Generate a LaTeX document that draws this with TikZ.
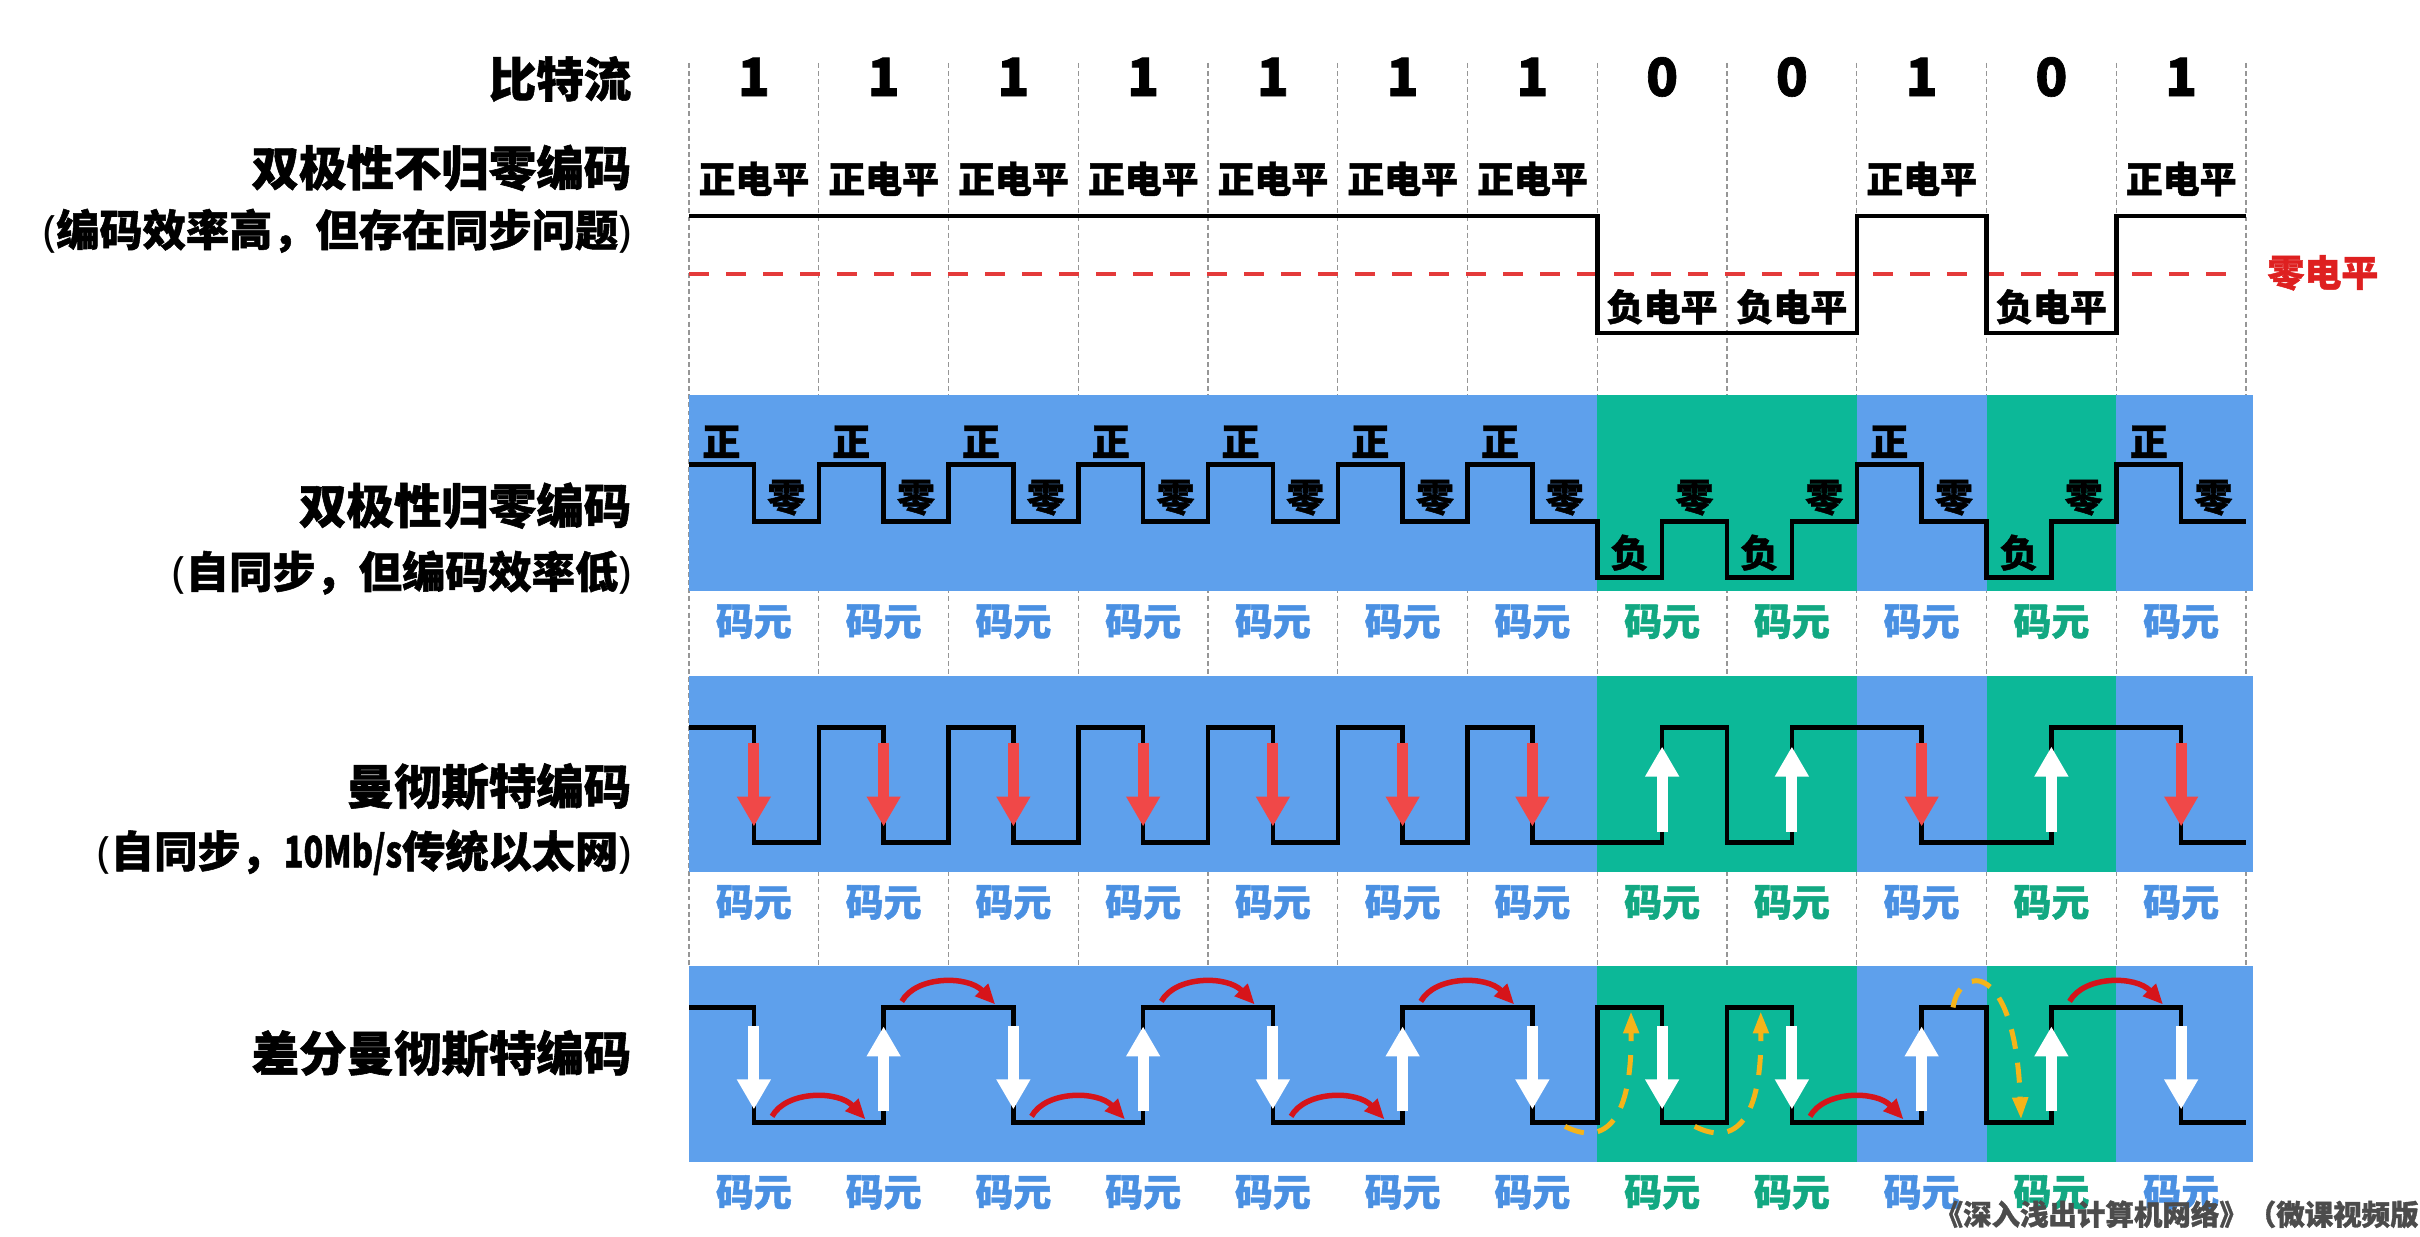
\documentclass[tikz,border=0pt]{standalone}
\usepackage{fontspec}
\usepackage{graphicx}
\setmainfont{Noto Sans CJK SC}[BoldFeatures={FakeBold=1.2}]
\newfontfamily\latfont{Noto Sans}[BoldFeatures={FakeBold=1.2}]
\newcommand\lp{{\latfont(}}
\newcommand\rp{{\latfont)}}
\usetikzlibrary{arrows.meta}
\definecolor{bandblue}{RGB}{94,160,236}
\definecolor{bandgreen}{RGB}{12,184,152}
\definecolor{txtblue}{RGB}{74,144,226}
\definecolor{txtgreen}{RGB}{18,168,130}
\definecolor{arrred}{RGB}{240,72,72}
\definecolor{arcred}{RGB}{214,20,26}
\definecolor{zerored}{RGB}{228,58,58}
\definecolor{labred}{RGB}{222,32,32}
\definecolor{dyellow}{RGB}{245,180,25}
\definecolor{gridgray}{RGB}{150,150,150}
\begin{document}
\begin{tikzpicture}[x=1.2975cm, y=-0.01cm,
  title/.style={anchor=east, inner sep=0pt, font=\bfseries\fontsize{13.5pt}{15pt}\selectfont},
  subtitle/.style={anchor=east, inner sep=0pt, font=\bfseries\fontsize{12.3pt}{14pt}\selectfont},
  bitlabel/.style={inner sep=0pt, font=\bfseries\fontsize{15pt}{17pt}\selectfont},
  lvl/.style={inner sep=0pt, font=\bfseries\fontsize{10.5pt}{12pt}\selectfont},
  symb/.style={inner sep=0pt, font=\bfseries\fontsize{10.8pt}{12pt}\selectfont},
  sig/.style={line width=0.045cm, line join=miter},
  gridline/.style={gridgray, line width=0.35pt, dash pattern=on 1.4pt off 0.9pt},
  fatarrow/.style={line width=0.11cm, -{Triangle[width=0.32cm,length=0.30cm]}},
  redarc/.style={arcred, line width=0.055cm, -{Triangle[width=0.17cm,length=0.2cm]}},
  yarrow/.style={dyellow, line width=0.05cm, dash pattern=on 0.2cm off 0.14cm, -{Triangle[width=0.15cm,length=0.22cm]}}
]
\useasboundingbox (-5.3102,0) rectangle (13.3410,1237);

% grid lines
\foreach \i in {0,...,12} \draw[gridline] (\i,63) -- (\i,967);

% bands
\fill[bandblue] (0,395) rectangle (12.05,591);
\fill[bandgreen] (7,395) rectangle (9,591);
\fill[bandgreen] (10,395) rectangle (11,591);
\fill[bandblue] (0,676) rectangle (12.05,872);
\fill[bandgreen] (7,676) rectangle (9,872);
\fill[bandgreen] (10,676) rectangle (11,872);
\fill[bandblue] (0,967) rectangle (12.05,1163);
\fill[bandgreen] (7,967) rectangle (9,1163);
\fill[bandgreen] (10,967) rectangle (11,1163);

% titles
\node[title] (tbits) at (-0.44,79) {比特流};
\node[title] (t1) at (-0.44,168) {双极性不归零编码};
\node[subtitle] (s1) at (-0.44,231) {\lp 编码效率高，但存在同步问题\rp};
\node[title] (t2) at (-0.44,506) {双极性归零编码};
\node[subtitle] (s2) at (-0.44,573) {\lp 自同步，但编码效率低\rp};
\node[title] (t3) at (-0.44,787) {曼彻斯特编码};
\node[subtitle] (s3) at (-0.44,853) {\lp 自同步，\scalebox{0.75}[1]{10Mb/s}传统以太网\rp};
\node[title] (t4) at (-0.44,1054) {差分曼彻斯特编码};

% bits
\foreach \i/\b in {0/1,1/1,2/1,3/1,4/1,5/1,6/1,7/0,8/0,9/1,10/0,11/1}
  \node[bitlabel] (b\i) at (\i+0.5,77) {\b};

% row 1: bipolar NRZ
\draw[zerored, line width=0.04cm, dash pattern=on 0.2cm off 0.17cm] (0,274) -- (11.93,274);
\node[lvl, labred] (zl) at (12.593,273) {零电平};
\draw[sig] (0,216) -- (7,216) -- (7,333) -- (9,333) -- (9,216) -- (10,216) -- (10,333) -- (11,333) -- (11,216) -- (12,216);
\foreach \i in {0,1,2,3,4,5,6,9,11} \node[lvl] (p\i) at (\i+0.5,179) {正电平};
\foreach \i in {7,8,10} \node[lvl] (n\i) at (\i+0.5,307) {负电平};

% row 2: bipolar RZ
\draw[sig] (0,465)
  \foreach \i in {0,...,6}{ -- (\i,465) -- (\i+0.5,465) -- (\i+0.5,522) -- (\i+1,522) }
  -- (7,578) -- (7.5,578) -- (7.5,522) -- (8,522) -- (8,578) -- (8.5,578) -- (8.5,522)
  -- (9,522) -- (9,465) -- (9.5,465) -- (9.5,522) -- (10,522) -- (10,578) -- (10.5,578)
  -- (10.5,522) -- (11,522) -- (11,465) -- (11.5,465) -- (11.5,522) -- (12,522);
\foreach \i in {0,1,2,3,4,5,6,9,11} \node[symb] (zp\i) at (\i+0.25,442) {正};
\foreach \i in {0,...,11} \node[symb] (zz\i) at (\i+0.75,498) {零};
\foreach \i in {7,8,10} \node[symb] (zn\i) at (\i+0.25,553) {负};

% row 3: Manchester
\draw[sig] (0,728)
  \foreach \i in {0,...,5}{ -- (\i+0.5,728) -- (\i+0.5,843) -- (\i+1,843) -- (\i+1,728) }
  -- (6.5,728) -- (6.5,843) -- (7.5,843) -- (7.5,728) -- (8,728) -- (8,843) -- (8.5,843)
  -- (8.5,728) -- (9.5,728) -- (9.5,843) -- (10.5,843) -- (10.5,728) -- (11.5,728)
  -- (11.5,843) -- (12,843);
\foreach \i in {0,1,2,3,4,5,6,9,11} \draw[fatarrow, arrred] (\i+0.5,743) -- (\i+0.5,827);
\foreach \i in {7,8,10} \draw[fatarrow, white] (\i+0.5,832) -- (\i+0.5,747);

% row 4: differential Manchester
\draw[sig] (0,1008) -- (0.5,1008) -- (0.5,1123) -- (1.5,1123) -- (1.5,1008) -- (2.5,1008)
  -- (2.5,1123) -- (3.5,1123) -- (3.5,1008) -- (4.5,1008) -- (4.5,1123) -- (5.5,1123)
  -- (5.5,1008) -- (6.5,1008) -- (6.5,1123) -- (7,1123) -- (7,1008) -- (7.5,1008)
  -- (7.5,1123) -- (8,1123) -- (8,1008) -- (8.5,1008) -- (8.5,1123) -- (9.5,1123)
  -- (9.5,1008) -- (10,1008) -- (10,1123) -- (10.5,1123) -- (10.5,1008) -- (11.5,1008)
  -- (11.5,1123) -- (12,1123);
\foreach \i in {0,2,4,6,7,8,11} \draw[fatarrow, white] (\i+0.5,1027) -- (\i+0.5,1110);
\foreach \i in {1,3,5,9,10} \draw[fatarrow, white] (\i+0.5,1112) -- (\i+0.5,1027);
\foreach \b/\l in {1/1123,2/1008,3/1123,4/1008,5/1123,6/1008,9/1123,11/1008}
  \draw[redarc] (\b-0.36,\l-6) .. controls (\b-0.25,\l-32) and (\b+0.15,\l-32) .. (\b+0.36,\l-3);
\draw[yarrow] (6.751,1127) .. controls (7.021,1145) and (7.268,1130) .. (7.260,1012);
\draw[yarrow] (7.751,1127) .. controls (8.021,1145) and (8.268,1130) .. (8.260,1012);
\draw[yarrow] (9.742,1008) .. controls (9.796,965) and (10.220,960) .. (10.266,1120);

% symbol labels
\foreach \i in {0,1,2,3,4,5,6,9,11} {
  \node[symb, txtblue] (ma\i) at (\i+0.5,622) {码元};
  \node[symb, txtblue] (mb\i) at (\i+0.5,903) {码元};
  \node[symb, txtblue] (mc\i) at (\i+0.5,1193) {码元};
}
\foreach \i in {7,8,10} {
  \node[symb, txtgreen] (ma\i) at (\i+0.5,622) {码元};
  \node[symb, txtgreen] (mb\i) at (\i+0.5,903) {码元};
  \node[symb, txtgreen] (mc\i) at (\i+0.5,1193) {码元};
}

% watermark
\node[anchor=west, inner sep=0pt, black!70, font=\bfseries\fontsize{8.1pt}{9pt}\selectfont] (wm) at (9.595,1215) {《深入浅出计算机网络》（微课视频版};
\end{tikzpicture}
\end{document}
